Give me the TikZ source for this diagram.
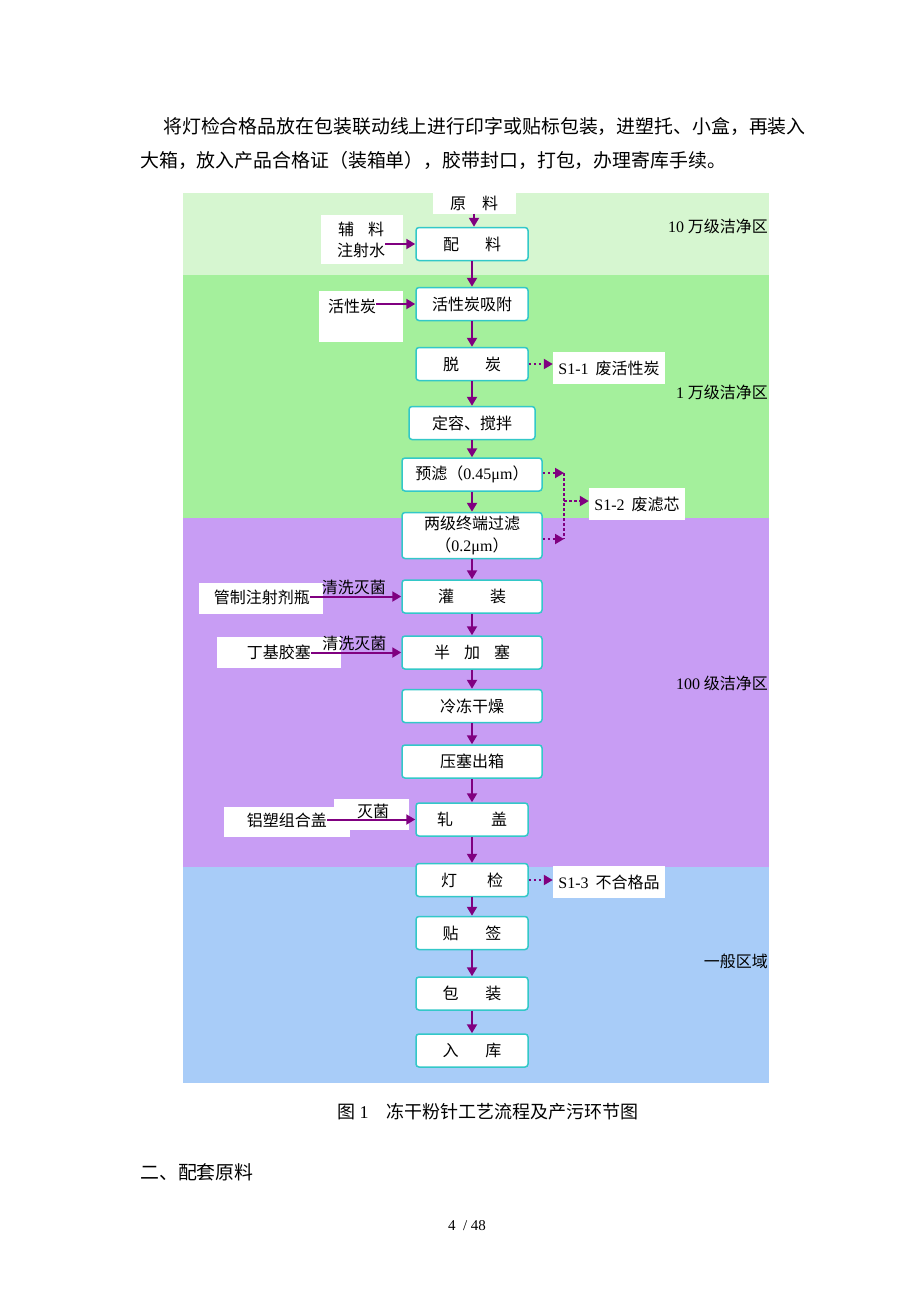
\documentclass[tikz,border=0pt]{standalone}
\usepackage{fontspec}
\setmainfont{Noto Sans CJK SC}
\newfontfamily\rmlat{Liberation Serif}
\usetikzlibrary{arrows.meta}
\definecolor{zonea}{HTML}{D6F6D0}
\definecolor{zoneb}{HTML}{A4F09C}
\definecolor{zonec}{HTML}{C89DF4}
\definecolor{zoned}{HTML}{A8CCF8}
\definecolor{boxline}{HTML}{33C8C8}
\definecolor{flowc}{HTML}{800080}
\newcommand\fsbody{\fontsize{18.9}{22}\selectfont}
\newcommand\fsbox{\fontsize{16}{22}\selectfont}
\newcommand\fscap{\fontsize{18}{22}\selectfont}

\begin{document}
\begin{tikzpicture}[x=1pt,y=-1pt,
    box/.style={draw=boxline,line width=1.5pt,rounded corners=3pt,fill=white,
        minimum width=112pt,minimum height=33pt,inner sep=0pt,font=\fsbox},
    wbox/.style={box,minimum width=140pt},
    flow/.style={flowc,line width=2pt,-{Triangle[length=9pt,width=10pt]}},
    waste/.style={flow,dash pattern=on 2.5pt off 2.5pt},
    lbl/.style={inner sep=0pt,font=\fsbox,text=black},
    zonelbl/.style={anchor=east,inner sep=0pt,font=\fsbox}]
    \useasboundingbox[fill=white](0,0)rectangle(920,1302);
    % page text
    \node[anchor=west,inner sep=0pt,font=\fsbody](p1)at(163,127){将灯检合格品放在包装联动线上进行印字或贴标包装，进塑托、小盒，再装入};
    \node[anchor=west,inner sep=0pt,font=\fsbody](p2)at(140,160){大箱，放入产品合格证（装箱单），胶带封口，打包，办理寄库手续。};
    % clean zones
    \fill[zonea](183,193)rectangle(769,275);
    \fill[zoneb](183,275)rectangle(769,518);
    \fill[zonec](183,518)rectangle(769,867);
    \fill[zoned](183,867)rectangle(769,1083);
    \node[zonelbl](za)at(768,226){{\rmlat 10} 万级洁净区};
    \node[zonelbl](zb)at(768,392){{\rmlat 1} 万级洁净区};
    \node[zonelbl](zc)at(768,683){{\rmlat 100} 级洁净区};
    \node[zonelbl](zd)at(768,961){一般区域};
    % white grounds of the side texts
    \fill[white](321,215)rectangle(403,264);
    \fill[white](319,291)rectangle(403,342);
    \fill[white](199,583)rectangle(323,614);
    \fill[white](217,637)rectangle(341,668);
    \fill[white](224,807)rectangle(350,837);
    \fill[white](334,799)rectangle(409,830);
    % main line
    \node[lbl,fill=white,minimum width=83pt,minimum height=21pt](yl)at(474,203){原\hspace{16pt}料};
    \node[box](pl)at(472,244){配\hspace{26pt}料};
    \node[box](xf)at(472,304){活性炭吸附};
    \node[box](tt)at(472,364){脱\hspace{26pt}炭};
    \node[box,minimum width=126pt](dr)at(472,423){定容、搅拌};
    \node[wbox](yv)at(472,474.5){预滤（{\rmlat 0.45μm}）};
    \node[wbox,minimum height=46pt,align=center](lj)at(472,535.5){两级终端过滤\\（{\rmlat 0.2μm}）};
    \node[wbox](gz)at(472,596.5){灌\hspace{36pt}装};
    \node[wbox](bjs)at(472,652.5){半\hspace{14pt}加\hspace{14pt}塞};
    \node[wbox](ld)at(472,706){冷冻干燥};
    \node[wbox](ys)at(472,761.5){压塞出箱};
    \node[box](zg)at(472,819.5){轧\hspace{38pt}盖};
    \node[box](dj)at(472,880){灯\hspace{30pt}检};
    \node[box](tq)at(472,933){贴\hspace{27pt}签};
    \node[box](bz)at(472,993.5){包\hspace{27pt}装};
    \node[box](rk)at(472,1050.5){入\hspace{27pt}库};
    \foreach \a/\b in {yl/pl,pl/xf,xf/tt,tt/dr,dr/yv,yv/lj,lj/gz,gz/bjs,bjs/ld,ld/ys,ys/zg,zg/dj,dj/tq,tq/bz,bz/rk}
        \draw[flow](\a.south)--(\a.south|-\b.north);
    % inputs
    \node[lbl](fl)at(361,229){辅\hspace{14pt}料};
    \node[lbl](zsh)at(361,250){注射水};
    \draw[flow](zsh.east|-pl.west)--(pl.west);
    \node[lbl](hxt)at(352,306){活性炭};
    \draw[flow](hxt.east|-xf.west)--(xf.west);
    \node[lbl,anchor=east](gzp)at(310,597){管制注射剂瓶};
    \draw[flow](gzp.east|-gz.west)--(gz.west)node[pos=.48,above=1pt,lbl]{清洗灭菌};
    \node[lbl,anchor=east](djs)at(311,652){丁基胶塞};
    \draw[flow](djs.east|-bjs.west)--(bjs.west)node[pos=.48,above=1pt,lbl]{清洗灭菌};
    \node[lbl,anchor=east](lsg)at(327,820){铝塑组合盖};
    \draw[flow](lsg.east|-zg.west)--(zg.west);
    \node[lbl](mj)at(373,811){灭菌};
    % waste
    \node[lbl,fill=white,minimum width=112pt,minimum height=32pt](s11)at(609,368){{\rmlat S1-1}\hspace{7pt}废活性炭};
    \draw[waste](tt.east)--(s11.west|-tt.east);
    \coordinate(j1)at(564,473);
    \coordinate(j2)at(564,539);
    \coordinate(j3)at(564,501);
    \node[lbl,fill=white,minimum width=96pt,minimum height=32pt](s12)at(637,504){{\rmlat S1-2}\hspace{7pt}废滤芯};
    \draw[waste](yv.east|-j1)--(j1);
    \draw[waste](lj.east|-j2)--(j2);
    \draw[flowc,line width=2pt,dash pattern=on 2.5pt off 2.5pt](j1)--(j2);
    \draw[waste](j3)--(s12.west|-j3);
    \node[lbl,fill=white,minimum width=112pt,minimum height=32pt](s13)at(609,882){{\rmlat S1-3}\hspace{7pt}不合格品};
    \draw[waste](dj.east)--(s13.west|-dj.east);
    % caption and page
    \node[inner sep=0pt,font=\fscap](cap)at(488,1112){图 {\rmlat 1}\hspace{18pt}冻干粉针工艺流程及产污环节图};
    \node[anchor=west,inner sep=0pt,font=\fsbody](sec)at(140,1172){二、配套原料};
    \node[inner sep=0pt,font=\rmlat\fontsize{15}{17}\selectfont](pg)at(467,1226){4\ \ /\ 48};
\end{tikzpicture}
\end{document}
